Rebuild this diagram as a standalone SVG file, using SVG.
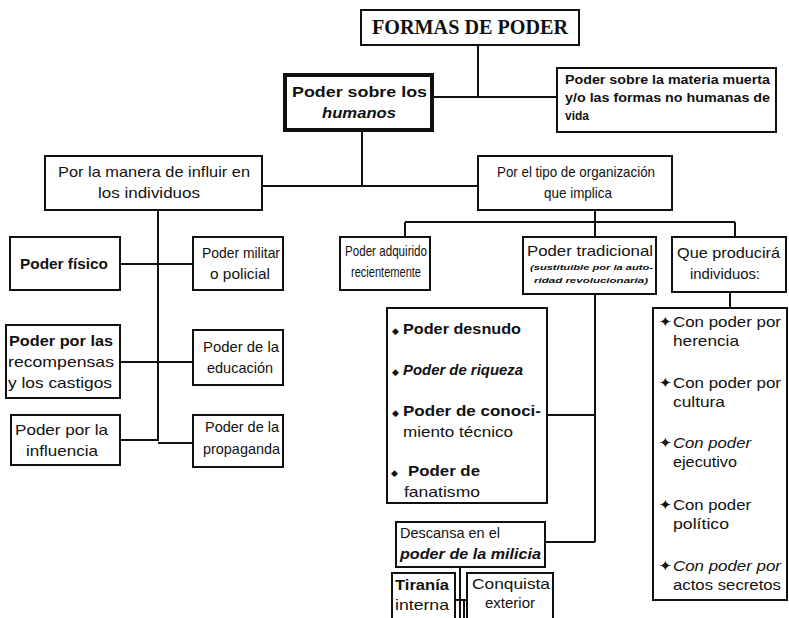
<svg xmlns="http://www.w3.org/2000/svg" width="789" height="618" viewBox="0 0 789 618">
<style>
.bx{fill:#fff;stroke:#111;stroke-width:2}
.thk{fill:#fff;stroke:#111;stroke-width:4}
.ln{fill:none;stroke:#111;stroke-width:2}
text{font-family:"Liberation Sans",Arial,sans-serif;fill:#111;font-size:15px}
.b{font-weight:bold}
.i{font-style:italic}
.c{text-anchor:middle}
.s{font-size:12px}
.t{font-size:8px;font-weight:bold;font-style:italic}
.ttl{font-family:"Liberation Serif","Times New Roman",serif;font-weight:bold;font-size:21px}
</style>
<rect width="789" height="618" fill="#fff"/>
<g id="connectors">
<path class="ln" d="M478 45V97M432 97H557"/>
<path class="ln" d="M362 130V186M262 186H478"/>
<path class="ln" d="M158 210V441"/>
<path class="ln" d="M120 264H193M120 362H193M120 440H158M158 443H193"/>
<path class="ln" d="M595 210V222M405 222H735M405 222V237M595 222V237M735 222V237"/>
<path class="ln" d="M595 294V542M547 415H595M545 542H595"/>
<path class="ln" d="M730 292V308"/>
<path class="ln" d="M460 567V618M455 600H467M464 600V618"/>
</g>
<g id="n-title"><rect class="bx" x="361" y="10" width="218" height="35"/><text class="ttl c" x="470" y="34" textLength="196" lengthAdjust="spacingAndGlyphs">FORMAS DE PODER</text></g>
<g id="n-humanos"><rect class="thk" x="285" y="75" width="147" height="55"/><text class="b" x="292" y="97" font-size="17" textLength="135" lengthAdjust="spacingAndGlyphs">Poder sobre los</text><text class="b i" x="322" y="118" font-size="14" textLength="74" lengthAdjust="spacingAndGlyphs">humanos</text></g>
<g id="n-materia"><rect class="bx" x="557" y="68" width="219" height="64"/><text class="s b" x="565" y="84" textLength="205" lengthAdjust="spacingAndGlyphs">Poder sobre la materia muerta</text><text class="s b" x="565" y="102" textLength="205" lengthAdjust="spacingAndGlyphs">y/o las formas no humanas de</text><text class="s b" x="565" y="120">vida</text></g>
<g id="n-manera"><rect class="bx" x="45" y="156" width="217" height="54"/><text x="58" y="177" textLength="192" lengthAdjust="spacingAndGlyphs">Por la manera de influir en</text><text x="98" y="198" textLength="102" lengthAdjust="spacingAndGlyphs">los individuos</text></g>
<g id="n-tipo"><rect class="bx" x="478" y="156" width="194" height="54"/><text x="497" y="177" textLength="158" lengthAdjust="spacingAndGlyphs">Por el tipo de organización</text><text x="544" y="198" textLength="68" lengthAdjust="spacingAndGlyphs">que implica</text></g>
<g id="n-fisico"><rect class="bx" x="10" y="237" width="110" height="53"/><text class="b" x="20" y="269" textLength="88" lengthAdjust="spacingAndGlyphs">Poder físico</text></g>
<g id="n-militar"><rect class="bx" x="193" y="237" width="90" height="53"/><text x="202" y="258" textLength="78" lengthAdjust="spacingAndGlyphs">Poder militar</text><text x="210" y="279" textLength="60" lengthAdjust="spacingAndGlyphs">o policial</text></g>
<g id="n-recompensas"><rect class="bx" x="6" y="325" width="114" height="73"/><text class="b" x="9" y="346" textLength="104" lengthAdjust="spacingAndGlyphs">Poder por las</text><text x="8" y="367" font-size="16" textLength="106" lengthAdjust="spacingAndGlyphs">recompensas</text><text x="8" y="388" font-size="16" textLength="104" lengthAdjust="spacingAndGlyphs">y los castigos</text></g>
<g id="n-educacion"><rect class="bx" x="193" y="330" width="90" height="55"/><text x="203" y="352" textLength="76" lengthAdjust="spacingAndGlyphs">Poder de la</text><text x="207" y="373" textLength="66" lengthAdjust="spacingAndGlyphs">educación</text></g>
<g id="n-influencia"><rect class="bx" x="11" y="415" width="109" height="50"/><text x="15" y="435" textLength="93" lengthAdjust="spacingAndGlyphs">Poder por la</text><text x="26" y="456" textLength="72" lengthAdjust="spacingAndGlyphs">influencia</text></g>
<g id="n-propaganda"><rect class="bx" x="193" y="415" width="90" height="52"/><text x="205" y="432" textLength="74" lengthAdjust="spacingAndGlyphs">Poder de la</text><text x="203" y="454" textLength="77" lengthAdjust="spacingAndGlyphs">propaganda</text></g>
<g id="n-adquirido"><rect class="bx" x="340" y="237" width="90" height="53"/><text x="345" y="256" textLength="82" lengthAdjust="spacingAndGlyphs">Poder adquirido</text><text x="351" y="277" textLength="70" lengthAdjust="spacingAndGlyphs">recientemente</text></g>
<g id="n-tradicional"><rect class="bx" x="523" y="237" width="133" height="57"/><text x="527" y="256" font-size="16" textLength="126" lengthAdjust="spacingAndGlyphs">Poder tradicional</text><text class="t" x="530" y="270" textLength="123" lengthAdjust="spacingAndGlyphs">(sustituible por la auto-</text><text class="t" x="534" y="283" textLength="114" lengthAdjust="spacingAndGlyphs">ridad revolucionaria)</text></g>
<g id="n-producira"><rect class="bx" x="672" y="237" width="114" height="55"/><text x="677" y="258" textLength="103" lengthAdjust="spacingAndGlyphs">Que producirá</text><text x="690" y="279" textLength="70" lengthAdjust="spacingAndGlyphs">individuos:</text></g>
<g id="n-lista-media"><rect class="bx" x="387" y="308" width="160" height="195"/>
<text x="392" y="334"><tspan font-size="9">◆</tspan></text><text class="b" x="403" y="334" textLength="118" lengthAdjust="spacingAndGlyphs">Poder desnudo</text>
<text x="392" y="375"><tspan font-size="9">◆</tspan></text><text class="b i" x="403" y="375" textLength="120" lengthAdjust="spacingAndGlyphs">Poder de riqueza</text>
<text x="392" y="416"><tspan font-size="9">◆</tspan></text><text class="b" x="403" y="416" textLength="138" lengthAdjust="spacingAndGlyphs">Poder de conoci-</text>
<text x="403" y="437" textLength="110" lengthAdjust="spacingAndGlyphs">miento técnico</text>
<text x="391" y="476"><tspan font-size="9">◆</tspan></text><text class="b" x="408" y="476" textLength="72" lengthAdjust="spacingAndGlyphs">Poder de</text>
<text x="404" y="497" textLength="76" lengthAdjust="spacingAndGlyphs">fanatismo</text></g>
<g id="n-lista-derecha"><rect class="bx" x="653" y="308" width="134" height="292"/>
<text x="659" y="327" font-size="10">✦</text><text x="673" y="327" textLength="108" lengthAdjust="spacingAndGlyphs">Con poder por</text><text x="673" y="346" textLength="66" lengthAdjust="spacingAndGlyphs">herencia</text>
<text x="659" y="388" font-size="10">✦</text><text x="673" y="388" textLength="108" lengthAdjust="spacingAndGlyphs">Con poder por</text><text x="673" y="407" textLength="52" lengthAdjust="spacingAndGlyphs">cultura</text>
<text x="659" y="448" font-size="10">✦</text><text class="i" x="673" y="448" textLength="78" lengthAdjust="spacingAndGlyphs">Con poder</text><text x="673" y="467" textLength="64" lengthAdjust="spacingAndGlyphs">ejecutivo</text>
<text x="659" y="510" font-size="10">✦</text><text x="673" y="510" textLength="78" lengthAdjust="spacingAndGlyphs">Con poder</text><text x="673" y="529" textLength="56" lengthAdjust="spacingAndGlyphs">político</text>
<text x="659" y="571" font-size="10">✦</text><text class="i" x="673" y="571" textLength="108" lengthAdjust="spacingAndGlyphs">Con poder por</text><text x="673" y="590" textLength="108" lengthAdjust="spacingAndGlyphs">actos secretos</text></g>
<g id="n-descansa"><rect class="bx" x="396" y="522" width="149" height="45"/><text x="400" y="538" font-size="14" textLength="100" lengthAdjust="spacingAndGlyphs">Descansa en el</text><text class="b i" x="400" y="559" font-size="14" textLength="141" lengthAdjust="spacingAndGlyphs">poder de la milicia</text></g>
<g id="n-tirania"><rect class="bx" x="392" y="573" width="63" height="50"/><text class="b" x="395" y="590" font-size="14" textLength="54" lengthAdjust="spacingAndGlyphs">Tiranía</text><text x="395" y="610" font-size="14" textLength="54" lengthAdjust="spacingAndGlyphs">interna</text></g>
<g id="n-conquista"><rect class="bx" x="467" y="573" width="86" height="50"/><text x="472" y="589" font-size="14" textLength="78" lengthAdjust="spacingAndGlyphs">Conquista</text><text class="c" x="510" y="608" font-size="10">exterior</text></g>
</svg>
